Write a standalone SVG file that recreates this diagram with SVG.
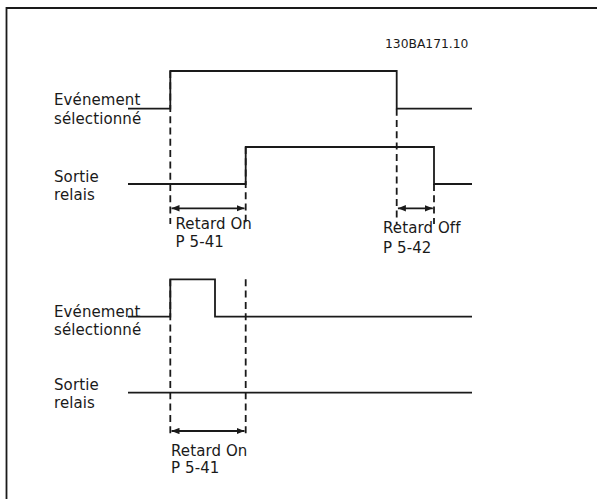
<svg xmlns="http://www.w3.org/2000/svg" width="597" height="499" viewBox="0 0 597 499">
<defs>
<style>
.sig{fill:none;stroke:#1a1a1a;stroke-width:1.8}
.dash{fill:none;stroke:#1a1a1a;stroke-width:1.8;stroke-dasharray:7 4.3}
.dim{fill:none;stroke:#1a1a1a;stroke-width:1.8;marker-start:url(#ah);marker-end:url(#ah)}
.lbl{font-family:"DejaVu Sans",Verdana,sans-serif;font-size:15px;letter-spacing:0.1px;fill:#1a1a1a}
.code{font-family:"DejaVu Sans",Verdana,sans-serif;font-size:12.3px;fill:#1a1a1a}
.frame{fill:none;stroke:#1a1a1a;stroke-width:1.8}
</style>
<marker id="ah" viewBox="0 0 10 8" refX="10" refY="4" markerWidth="8" markerHeight="6.4" markerUnits="userSpaceOnUse" orient="auto-start-reverse">
<path d="M0,0 L10,4 L0,8 Z" fill="#1a1a1a"/>
</marker>
</defs>
<rect width="597" height="499" fill="#fff"/>
<path class="frame" d="M6.5,499 V8 H597"/>
<text class="code" x="385" y="48">130BA171.10</text>
<g id="labels">
<text class="lbl" x="54" y="105">Evénement</text>
<text class="lbl" x="54" y="123.5">sélectionné</text>
<text class="lbl" x="54" y="181.5">Sortie</text>
<text class="lbl" x="54" y="200">relais</text>
<text class="lbl" x="54" y="317">Evénement</text>
<text class="lbl" x="54" y="334.5">sélectionné</text>
<text class="lbl" x="54" y="389.5">Sortie</text>
<text class="lbl" x="54" y="407.5">relais</text>
</g>
<g id="signals">
<path id="event1" class="sig" d="M128,108.7 H170.3 V71 H396.7 V108.7 H472"/>
<path id="relay1" class="sig" d="M128,184 H245.7 V147 H434 V184 H472"/>
<path id="event2" class="sig" d="M128,316.7 H170.3 V279.3 H215 V316.7 H472"/>
<path id="relay2" class="sig" d="M128,392.7 H472"/>
</g>
<g id="connectors">
<path class="dash" d="M170.3,71 V224"/>
<path class="dash" d="M245.7,147 V224"/>
<path class="dash" d="M396.7,108.7 V224"/>
<path class="dash" d="M434,184 V224"/>
<path class="dim" d="M171.5,208.3 H244.5"/>
<path class="dim" d="M397.9,208.3 H432.8"/>
<path class="dash" d="M170.3,279.3 V436"/>
<path class="dash" d="M245.7,279.3 V436"/>
<path class="dim" d="M171.5,431 H244.5"/>
</g>
<g id="dim-labels">
<text class="lbl" x="175.5" y="228.5">Retard On</text>
<text class="lbl" x="175.5" y="246.5">P 5-41</text>
<text class="lbl" x="383" y="233.3">Retard Off</text>
<text class="lbl" x="383" y="253">P 5-42</text>
<text class="lbl" x="171" y="455.5">Retard On</text>
<text class="lbl" x="171" y="473">P 5-41</text>
</g>
</svg>
